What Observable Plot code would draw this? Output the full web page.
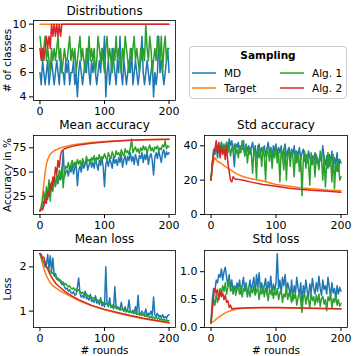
<!DOCTYPE html>
<html><head><meta charset="utf-8">
<script src="https://cdn.jsdelivr.net/npm/d3@7"></script>
<script src="https://cdn.jsdelivr.net/npm/@observablehq/plot@0.6"></script>
<style>
body{margin:0;background:#fff;font-family:"DejaVu Sans",sans-serif}
#fig{position:relative;width:353px;height:356px;overflow:hidden;background:#fff}
</style></head><body><div id="fig"></div><script>
// ---------- data ----------
const seriesNames = ["MD", "Target", "Alg. 1", "Alg. 2"];
const seriesColors = ["#1f77b4", "#ff7f0e", "#2ca02c", "#d62728"];
const legendTitle = "Sampling";
const xTickValues = [0, 100, 200];
const rounds = d3.range(0, 201, 2); // rounds 0..200, every 2nd round

// Distributions (# of classes)
const distMD = [6,5,7,6,5,6,7,5,6,7,6, 5,6,7,6,5,7,6,6,5,7, 6,7,5,6,6,7,5,6,4,6, 7,6,5,6,7,6,8,6,5,7, 6,7,6,5,6,7,6,8,7,9, 4,6,7,5,6,8,7,6,5,7, 6,9,6,5,7,6,5,6,7,6, 8,5,6,7,6,5,6,7,9,6, 5,6,7,6,5,6,7,4,6,5, 6,9,6,7,6,5,6,7,8,6];
const distTargetRounds = [0, 200];
const distTarget = [10, 10];
const distAlg1 = [9,8,7,8,9,7,8,7,6,8,7, 8,7,8,9,7,8,6,7,8,7, 7,8,9,7,8,7,8,6,7,8, 9,7,8,7,6,8,7,9,7,8, 7,8,6,7,9,8,7,8,7,6, 8,9,7,8,7,6,8,7,9,7, 8,7,6,8,7,9,8,7,6,8, 7,8,9,7,8,7,6,8,7,8, 7,10,8,7,9,8,6,7,8,7, 9,8,7,9,6,8,9,7,8,8];
const distAlg2Rounds = [0,2,4,6,8,10,12,14,16,18,20,22,24,26,28,30,32,34,36,200];
const distAlg2 = [8,7,8,7,8,9,8,9,8,10,9,10,9,10,9,10,9,10,10,10];

// Mean accuracy (%)
const accMD = [10,12,15,20,18,28,22,35,30,38,33, 40,36,44,38,46,42,48,72,45,50, 52,46,55,50,58,48,54,60,36,52, 56,50,60,54,58,62,52,57,63,55, 60,54,64,58,52,62,57,65,55,35, 58,62,56,64,60,54,66,59,63,57, 65,60,68,55,63,67,58,66,62,70, 61,66,58,68,63,57,67,64,70,60, 68,63,71,58,66,69,62,47,65,70, 64,72,66,60,70,73,65,71,68,70];
const accTargetRounds = [0,2,4,6,8,10,12,14,16,20,25,30,40,50,60,80,100,120,140,160,180,200];
const accTarget = [10,15,25,38,50,58,63,66,68.5,71,73,74.5,76.5,78,79,80.5,81.5,82.3,82.8,83.2,83.5,83.7];
const accAlg1 = [10,14,20,30,18,35,25,42,20,40,30, 45,35,48,40,52,46,55,34,50,56, 54,60,52,58,62,55,60,57,63,58, 62,56,64,60,58,66,61,63,59,65, 62,67,60,65,63,68,62,66,64,69, 65,62,70,66,64,71,67,65,72,68, 70,66,73,69,67,74,70,72,68,75, 84,70,73,76,71,74,69,75,72,77, 73,76,70,74,78,72,75,71,76,74, 77,72,75,73,78,76,82,74,77,76];
const accAlg2Rounds = [0,2,4,6,8,10,12,14,16,18,20,22,24,26,28,30,32,34,36,38,40,50,60,80,100,120,140,160,180,200];
const accAlg2 = [10,12,11,15,22,18,30,25,38,32,45,40,55,48,62,55,68,72,73,74,74.5,76.5,78,79.8,81,82,82.8,83.2,83.6,83.8];

// Std accuracy
const sdAccMD = [20,30,38,35,40,33,41,36,42,38,40, 35,42,38,44,40,43,37,28,41,39, 42,36,40,38,43,34,41,37,40,35, 39,42,36,40,33,38,41,35,39,37, 40,34,38,42,36,39,33,40,37,41, 35,39,36,40,32,38,41,34,37,39, 33,38,35,40,30,37,34,39,32,36, 38,31,35,30,37,33,29,34,31,36, 30,33,28,35,31,40,33,29,34,27, 35,30,37,26,33,29,36,25,32,30];
const sdAccTargetRounds = [0,2,4,6,8,10,15,20,30,40,50,60,80,100,120,140,160,180,200];
const sdAccTarget = [20,27,31,33,32,31,30,28.5,26,23.5,22,21,19.5,17.5,16.5,15.5,14.8,14.2,13.8];
const sdAccAlg1 = [20,28,35,38,40,36,39,34,42,37,41, 38,42,36,40,34,39,37,41,35,38, 33,40,36,43,38,35,40,30,37,39, 36,24,38,35,21,40,33,37,28,39, 34,20,38,36,31,39,27,37,33,40, 30,36,19,38,34,26,39,20,37,35, 28,38,33,22,37,30,36,25,34,11, 32,37,27,35,30,17,36,29,34,22, 35,31,26,37,33,20,34,16,30,36, 28,33,19,35,15,30,25,32,20,22];
const sdAccAlg2Rounds = [0,2,4,6,8,10,12,14,16,18,20,22,24,26,28,30,32,34,36,38,40,50,60,80,100,120,140,160,180,200];
const sdAccAlg2 = [20,30,35,38,43,36,42,33,40,35,38,32,40,30,25,20,19,22,21,20.5,20.5,20,19,17.5,16.5,15.3,14.6,14,13.5,13];

// Mean loss
const lossMD = [2.3,2.25,2.15,2.1,2.0,2.05,2.28,1.95,2.25,1.9,2.2, 1.8,1.85,1.75,1.7,1.72,1.65,1.6,1.62,1.55,1.5, 1.52,1.45,1.48,1.42,1.4,1.44,1.36,1.38,1.55,1.75, 1.4,1.32,1.35,1.3,1.45,1.28,1.3,1.25,1.38,1.22, 1.25,1.2,1.35,1.18,1.22,1.15,1.3,1.12,1.18,1.1, 2.0,1.15,1.1,1.3,1.08,1.12,1.05,1.55,1.1,1.05, 1.08,1.02,1.2,1.05,1.0,1.1,0.98,1.04,1.25,1.0, 0.96,1.02,0.95,1.1,0.94,1.36,0.97,0.92,1.0,0.95, 0.93,1.05,0.9,0.95,0.92,1.0,0.9,1.32,0.92,0.88, 0.95,0.87,0.9,0.86,0.92,0.85,0.88,0.84,0.9,0.92];
const lossTargetRounds = [0,2,4,6,8,10,15,20,30,40,50,60,80,100,120,140,160,180,200];
const lossTarget = [2.3,2.18,2.07,1.97,1.88,1.8,1.66,1.57,1.47,1.39,1.31,1.24,1.12,1.03,0.96,0.89,0.83,0.78,0.73];
const lossAlg1 = [2.3,2.22,2.15,2.1,2.08,2.0,1.98,1.92,1.9,1.85,1.88, 1.8,1.78,1.72,1.75,1.68,1.7,1.64,1.66,1.6,1.62, 1.58,1.55,1.57,1.52,1.5,1.53,1.47,1.5,1.45,1.48, 1.44,1.4,1.43,1.38,1.36,1.4,1.33,1.35,1.3,1.32, 1.28,1.3,1.25,1.27,1.22,1.25,1.2,1.22,1.17,1.2, 1.15,1.18,1.13,1.16,1.1,1.14,1.08,1.12,1.06,1.1, 1.05,1.08,1.03,1.06,1.0,1.04,0.98,1.02,0.97,1.0, 0.96,0.99,0.94,0.97,0.92,0.95,0.91,0.94,0.9,0.93, 0.88,0.91,0.87,0.9,0.85,0.88,0.84,0.87,0.83,0.86, 0.82,0.85,0.8,0.84,0.79,0.82,0.78,0.81,0.77,0.79];
const lossAlg2Rounds = [0,2,4,6,8,10,12,15,20,25,30,40,50,60,80,100,120,140,160,180,200];
const lossAlg2 = [2.3,2.28,2.2,2.22,2.1,2.0,1.95,1.85,1.72,1.62,1.55,1.43,1.34,1.26,1.13,1.04,0.97,0.9,0.84,0.79,0.74];

// Std loss
const sdLossMD = [0.1,0.5,0.7,0.65,0.85,0.8,0.95,0.9,1.05,0.85,1.0, 1.08,0.9,0.75,0.95,0.7,0.85,0.6,0.75,0.65,0.8, 0.7,0.85,0.6,0.75,0.9,0.65,0.8,0.55,0.7,0.85, 0.65,0.78,0.9,0.6,0.95,0.72,0.98,0.68,0.8,0.62, 0.75,0.88,0.6,0.82,0.7,0.92,0.58,0.78,0.65,0.8, 1.32,0.7,0.85,0.6,0.9,0.75,0.95,0.65,0.8,0.7, 0.55,0.85,0.48,0.75,0.62,0.9,0.7,0.58,0.8,0.42, 0.75,0.6,0.85,0.65,0.55,0.78,0.62,0.88,0.7,0.6, 0.8,0.65,0.92,0.7,0.58,0.85,0.68,0.75,0.6,0.9, 0.72,0.55,0.8,0.62,0.7,0.5,0.75,0.6,0.72,0.65];
const sdLossTargetRounds = [0,2,4,6,8,10,15,20,25,30,40,50,60,80,100,120,140,160,180,200];
const sdLossTarget = [0.08,0.1,0.11,0.13,0.15,0.17,0.21,0.25,0.28,0.3,0.33,0.345,0.35,0.355,0.355,0.35,0.345,0.34,0.335,0.33];
const sdLossAlg1 = [0.1,0.35,0.5,0.4,0.6,0.45,0.55,0.7,0.6,0.75,0.65, 0.8,0.6,0.72,0.86,0.65,0.7,0.62,0.75,0.58,0.68, 0.72,0.6,0.75,0.55,0.7,0.65,0.78,0.6,0.68,0.55, 0.7,0.62,0.75,0.58,0.65,0.72,0.5,0.68,0.6,0.75, 0.55,0.7,0.62,0.48,0.68,0.6,0.72,0.52,0.65,0.58, 0.7,0.5,0.62,0.68,0.45,0.6,0.55,0.72,0.5,0.62, 0.58,0.45,0.65,0.52,0.6,0.4,0.55,0.62,0.48,0.27, 0.55,0.6,0.42,0.58,0.5,0.35,0.62,0.48,0.55,0.4, 0.58,0.45,0.6,0.38,0.52,0.56,0.42,0.5,0.3,0.55, 0.48,0.6,0.35,0.52,0.45,0.58,0.4,0.5,0.38,0.43];
const sdLossAlg2Rounds = [0,2,4,6,8,10,12,14,16,18,20,22,24,26,28,30,32,34,36,40,50,60,80,100,120,140,160,180,200];
const sdLossAlg2 = [0.07,0.3,0.55,0.7,0.62,0.68,0.5,0.65,0.55,0.62,0.5,0.58,0.45,0.48,0.36,0.4,0.33,0.34,0.34,0.345,0.35,0.355,0.36,0.36,0.355,0.35,0.345,0.34,0.335];

// ---------- drawing ----------
const fig = document.getElementById("fig");
const FONT = "'DejaVu Sans', sans-serif";
const TICK_FS = 11, TITLE_FS = 12, LABEL_FS = 10.5;
function zip(xs, ys) { return xs.map((x, i) => ({x, y: ys[i]})); }

function panel(o) {
  const marks = [];
  o.series.forEach((s, k) => {
    marks.push(Plot.line(zip(s[0], s[1]), {x: "x", y: "y", stroke: seriesColors[k], strokeWidth: 1.5}));
  });
  marks.push(Plot.frame({stroke: "#000", strokeWidth: 0.8}));
  marks.push(Plot.axisX({ticks: xTickValues, tickSize: 4, tickPadding: 3, tickFormat: d => String(d), label: null, fontSize: TICK_FS}));
  marks.push(Plot.axisY({ticks: o.yTicks, tickSize: 4, tickPadding: 3, tickFormat: o.yFormat || (d => String(d)), label: null, fontSize: TICK_FS}));
  marks.push(Plot.text([o.title], {text: d => d, frameAnchor: "top", lineAnchor: "middle", textAnchor: "middle", dy: o.titleDy, fontSize: TITLE_FS}));
  if (o.ylabel) marks.push(Plot.text([o.ylabel], {text: d => d, frameAnchor: "left", textAnchor: "middle", lineAnchor: "middle", rotate: -90, dx: -25.5, fontSize: LABEL_FS}));
  if (o.xlabel) marks.push(Plot.text([o.xlabel], {text: d => d, frameAnchor: "bottom", textAnchor: "middle", lineAnchor: "middle", dy: 23.5, fontSize: LABEL_FS}));
  const svg = Plot.plot({
    width: o.width, height: o.height,
    marginLeft: o.mL, marginRight: o.mR, marginTop: o.mT, marginBottom: o.mB,
    x: {domain: [-10, 210]},
    y: {domain: o.yDomain},
    style: {fontFamily: FONT, fontSize: TICK_FS + "px", color: "#000", background: "transparent", overflow: "visible"},
    marks
  });
  svg.style.position = "absolute";
  svg.style.left = o.left + "px";
  svg.style.top = o.top + "px";
  fig.appendChild(svg);
}

// Distributions
panel({left: 0, top: 0, width: 178, height: 118, mL: 33, mR: 3, mT: 20, mB: 18,
  yDomain: [3.7, 10.3], yTicks: [4, 6, 8, 10], title: "Distributions", titleDy: -9.5, ylabel: "# of classes",
  series: [[rounds, distMD], [distTargetRounds, distTarget], [rounds, distAlg1], [distAlg2Rounds, distAlg2]]});
// Mean accuracy
panel({left: 0, top: 115, width: 178, height: 117, mL: 33, mR: 3, mT: 20, mB: 18,
  yDomain: [6.3, 87.7], yTicks: [25, 50, 75], title: "Mean accuracy", titleDy: -10, ylabel: "Accuracy in %",
  series: [[rounds, accMD], [accTargetRounds, accTarget], [rounds, accAlg1], [accAlg2Rounds, accAlg2]]});
// Std accuracy
panel({left: 178, top: 115, width: 175, height: 117, mL: 26, mR: 6, mT: 20, mB: 18,
  yDomain: [0, 46], yTicks: [0, 20, 40], title: "Std accuracy", titleDy: -10,
  series: [[rounds, sdAccMD], [sdAccTargetRounds, sdAccTarget], [rounds, sdAccAlg1], [sdAccAlg2Rounds, sdAccAlg2]]});
// Mean loss
panel({left: 0, top: 230, width: 178, height: 126, mL: 33, mR: 3, mT: 20, mB: 29,
  yDomain: [0.63, 2.37], yTicks: [1, 2], title: "Mean loss", titleDy: -11.5, ylabel: "Loss", xlabel: "# rounds",
  series: [[rounds, lossMD], [lossTargetRounds, lossTarget], [rounds, lossAlg1], [lossAlg2Rounds, lossAlg2]]});
// Std loss
panel({left: 178, top: 230, width: 175, height: 126, mL: 26, mR: 6, mT: 20, mB: 29,
  yDomain: [0, 1.38], yTicks: [0, 0.5, 1.0], yFormat: d3.format(".1f"), title: "Std loss", titleDy: -11.5, xlabel: "# rounds",
  series: [[rounds, sdLossMD], [sdLossTargetRounds, sdLossTarget], [rounds, sdLossAlg1], [sdLossAlg2Rounds, sdLossAlg2]]});

// Legend (two columns, column-wise order)
const NS = "http://www.w3.org/2000/svg";
const lg = document.createElementNS(NS, "svg");
lg.setAttribute("width", 160); lg.setAttribute("height", 55);
lg.style.cssText = "position:absolute;left:188px;top:45px;overflow:visible";
function el(tag, attrs, text) {
  const e = document.createElementNS(NS, tag);
  for (const k in attrs) e.setAttribute(k, attrs[k]);
  if (text != null) e.textContent = text;
  lg.appendChild(e); return e;
}
el("rect", {x: 1.5, y: 1.5, width: 157, height: 52, rx: 3, fill: "#fff", stroke: "#cccccc", "stroke-width": 1});
el("text", {x: 80, y: 10, "text-anchor": "middle", "dominant-baseline": "central", "font-family": FONT, "font-size": 10.5, "font-weight": "bold"}, legendTitle);
const colX = [4, 92], rowY = [28, 43];
seriesNames.forEach((name, k) => {
  const c = Math.floor(k / 2), r = k % 2;
  el("line", {x1: colX[c], x2: colX[c] + 24, y1: rowY[r], y2: rowY[r], stroke: seriesColors[k], "stroke-width": 1.5});
  el("text", {x: colX[c] + 32, y: rowY[r], "dominant-baseline": "central", "font-family": FONT, "font-size": 10.5}, name);
});
fig.appendChild(lg);
</script></body></html>
